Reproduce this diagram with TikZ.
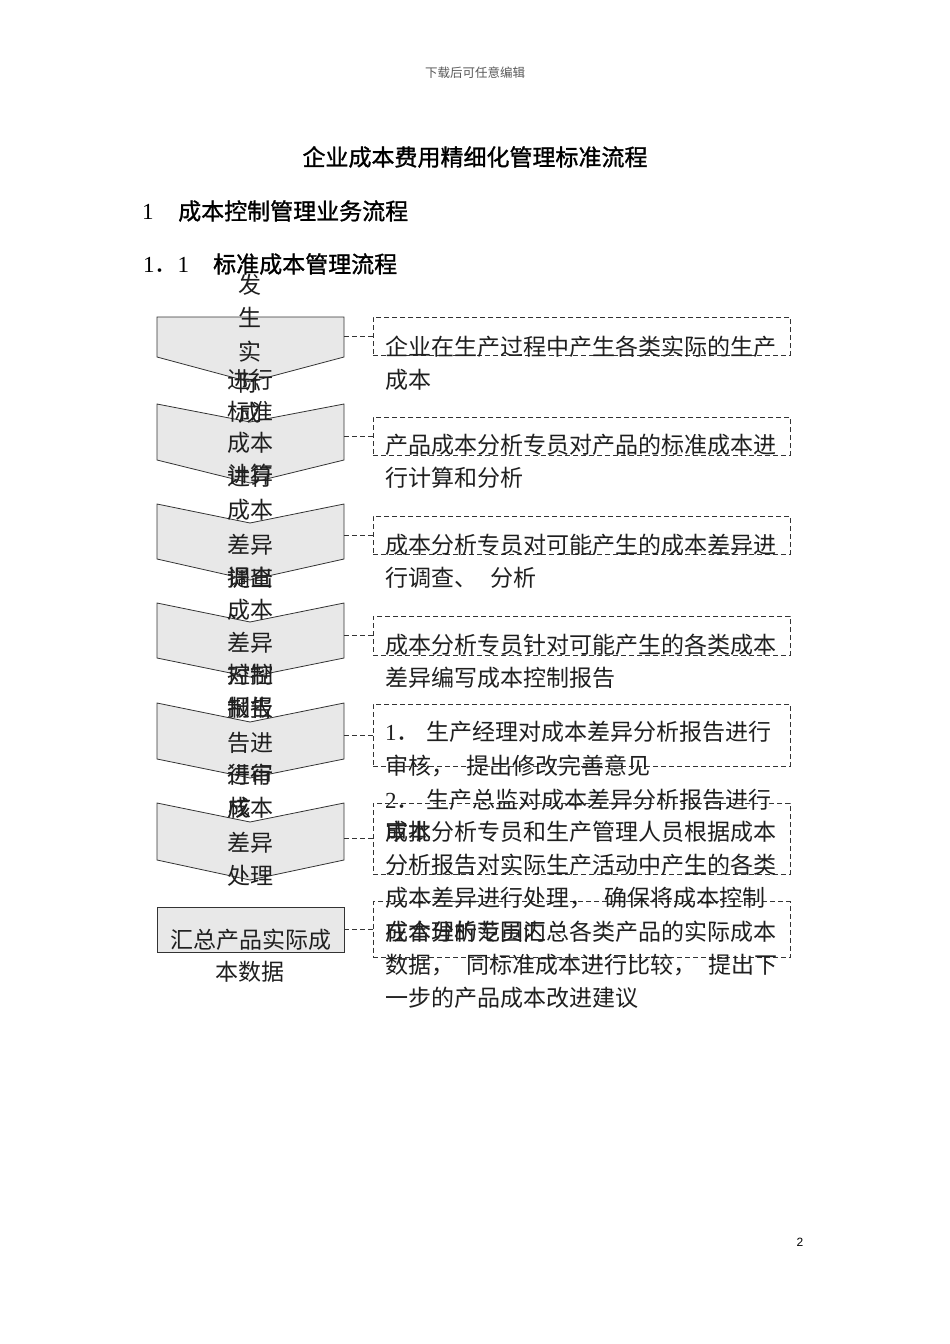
\documentclass[tikz,border=0pt]{standalone}
\usepackage{fontspec}
\setmainfont{Liberation Serif}
\setsansfont{Liberation Sans}
\newfontfamily\cjk{Noto Sans CJK SC}
\newfontfamily\cjkbold[FakeBold=1.2]{Noto Sans CJK SC}

\tikzset{
  stepshape/.style={draw=black!80, fill=black!9, line width=0.8pt},
  notebox/.style={draw=black!80, line width=0.7pt, dash pattern=on 5pt off 3pt,
    minimum width=417pt, inner sep=0pt},
  link/.style={draw=black!80, line width=0.7pt, dash pattern=on 5pt off 3pt},
  body/.style={font=\cjk\fontsize{23}{28}\selectfont, text=black!88, inner sep=0pt,
    text height=20.2pt, text depth=2.8pt, anchor=west},
  col/.style={body, anchor=center},
  head/.style={font=\cjkbold\fontsize{23}{28}\selectfont, inner sep=0pt,
    text height=20.2pt, text depth=2.8pt, anchor=west},
}

\begin{document}
\begin{tikzpicture}[x=1pt, y=-1pt]
      \fill[white] (0,0) rectangle (950,1344);
      \useasboundingbox (0,0) rectangle (950,1344);

      % page head and titles
      \node[font=\cjk\fontsize{12.5}{15}\selectfont, text=black!65, inner sep=0pt] (hdr) at (475,73) {下载后可任意编辑};
      \node[head, anchor=center] (title) at (475,157) {企业成本费用精细化管理标准流程};
      \node[head] (sec1no) at (142,211) {\rmfamily\mdseries 1};
      \node[head] (sec1) at (178,211) {成本控制管理业务流程};
      \node[head] (sec2no) at (143,264) {\rmfamily 1{\cjk ．}1};
      \node[head] (sec2) at (213,264) {标准成本管理流程};

      % steps on the left
      \draw[stepshape] (157,317) -- (344,317) -- (344,357) -- (250,382) -- (157,357) -- cycle;
      \draw[stepshape] (157,404) -- (250,422) -- (344,404) -- (344,460) -- (250,483) -- (157,460) -- cycle;
      \draw[stepshape] (157,504) -- (250,523) -- (344,504) -- (344,559) -- (250,580) -- (157,559) -- cycle;
      \draw[stepshape] (157,603) -- (250,622) -- (344,603) -- (344,658) -- (250,677) -- (157,658) -- cycle;
      \draw[stepshape] (157,703) -- (250,722) -- (344,703) -- (344,759) -- (250,778) -- (157,759) -- cycle;
      \draw[stepshape] (157,803) -- (250,822) -- (344,803) -- (344,860) -- (250,880) -- (157,860) -- cycle;
      \node[stepshape, minimum width=187pt, minimum height=45pt, inner sep=0pt] (sum) at (250.5,929.5) {};

      \coordinate (s1) at (344,336);
      \coordinate (s2) at (344,436);
      \coordinate (s3) at (344,535);
      \coordinate (s4) at (344,635.5);
      \coordinate (s5) at (344,735);
      \coordinate (s6) at (344,838.5);

      % dashed notes on the right
      \node[notebox, minimum height=38pt] (n1) at (581.5,336) {};
      \node[notebox, minimum height=38pt] (n2) at (581.5,436) {};
      \node[notebox, minimum height=38pt] (n3) at (581.5,535) {};
      \node[notebox, minimum height=39pt] (n4) at (581.5,635.5) {};
      \node[notebox, minimum height=62pt] (n5) at (581.5,735) {};
      \node[notebox, minimum height=71pt] (n6) at (581.5,838.5) {};
      \node[notebox, minimum height=56pt] (n7) at (581.5,929.5) {};

      \draw[link] (s1) to (n1);
      \draw[link] (s2) to (n2);
      \draw[link] (s3) to (n3);
      \draw[link] (s4) to (n4);
      \draw[link] (s5) to (n5);
      \draw[link] (s6) to (n6);
      \draw[link] (sum) to (n7);

      % text of the steps
      \node[col] (c1a) at (250,285) {发};
      \node[col] (c1b) at (250,318) {生};
      \node[col] (c1c) at (250,352) {实};
      \node[col] (c1d) at (250,383) {际};
      \node[col] (c1e) at (250,413) {成};

      \node[col] (c2a) at (250,380) {进行};
      \node[col] (c2b) at (250,412) {标准};
      \node[col] (c2c) at (250,443) {成本};
      \node[col] (c2d) at (250,475) {计算};

      \node[col] (c3a) at (250,477) {进行};
      \node[col] (c3b) at (250,510) {成本};
      \node[col] (c3c) at (250,545) {差异};
      \node[col] (c3d) at (250,578) {调查};
      \node[col] (c3e) at (239.5,610) {、};

      \node[col] (c4a) at (250,578) {提出};
      \node[col] (c4b) at (250,610) {成本};
      \node[col] (c4c) at (250,643) {差异};
      \node[col] (c4d) at (250,675) {控制};
      \node[col] (c4e) at (250,708) {报告};

      \node[col] (c5a) at (250,675) {对控};
      \node[col] (c5b) at (250,708) {制报};
      \node[col] (c5c) at (250,743) {告进};
      \node[col] (c5d) at (250,775) {行审};
      \node[col] (c5e) at (239.5,808) {核};

      \node[col] (c6a) at (250,775) {进行};
      \node[col] (c6b) at (250,808) {成本};
      \node[col] (c6c) at (250,843) {差异};
      \node[col] (c6d) at (250,876) {处理};

      \node[col] (c7a) at (251,940) {汇总产品实际成};
      \node[col] (c7b) at (250,972) {本数据};

      % text of the notes
      \node[body] (t1a) at (385,347) {企业在生产过程中产生各类实际的生产};
      \node[body] (t1b) at (385,380) {成本};
      \node[body] (t2a) at (385,445) {产品成本分析专员对产品的标准成本进};
      \node[body] (t2b) at (385,478) {行计算和分析};
      \node[body] (t3a) at (385,545) {成本分析专员对可能产生的成本差异进};
      \node[body] (t3b) at (385,578) {行调查、\hspace{13pt}分析};
      \node[body] (t4a) at (385,645) {成本分析专员针对可能产生的各类成本};
      \node[body] (t4b) at (385,678) {差异编写成本控制报告};
      \node[body] (t5a) at (385,732) {\makebox[41pt][l]{\rmfamily 1{\cjk ．}}生产经理对成本差异分析报告进行};
      \node[body] (t5b) at (385,766) {审核，\hspace{12pt}提出修改完善意见};
      \node[body] (t5c) at (385,800) {\makebox[41pt][l]{\rmfamily 2{\cjk ．}}生产总监对成本差异分析报告进行};
      \node[body] (t5d) at (385,832) {审批};
      \node[body] (t6a) at (385,832) {成本分析专员和生产管理人员根据成本};
      \node[body] (t6b) at (385,865) {分析报告对实际生产活动中产生的各类};
      \node[body] (t6c) at (385,898) {成本差异进行处理，\hspace{12pt}确保将成本控制};
      \node[body] (t6d) at (385,932) {在合理的范围内};
      \node[body] (t7a) at (385,932) {成本分析专员汇总各类产品的实际成本};
      \node[body] (t7b) at (385,965) {数据，\hspace{12pt}同标准成本进行比较，\hspace{12pt}提出下};
      \node[body] (t7c) at (385,998) {一步的产品成本改进建议};

      \node[font=\sffamily\fontsize{12}{14}\selectfont, inner sep=0pt] (pageno) at (800,1242) {2};
    \end{tikzpicture}
\end{document}
